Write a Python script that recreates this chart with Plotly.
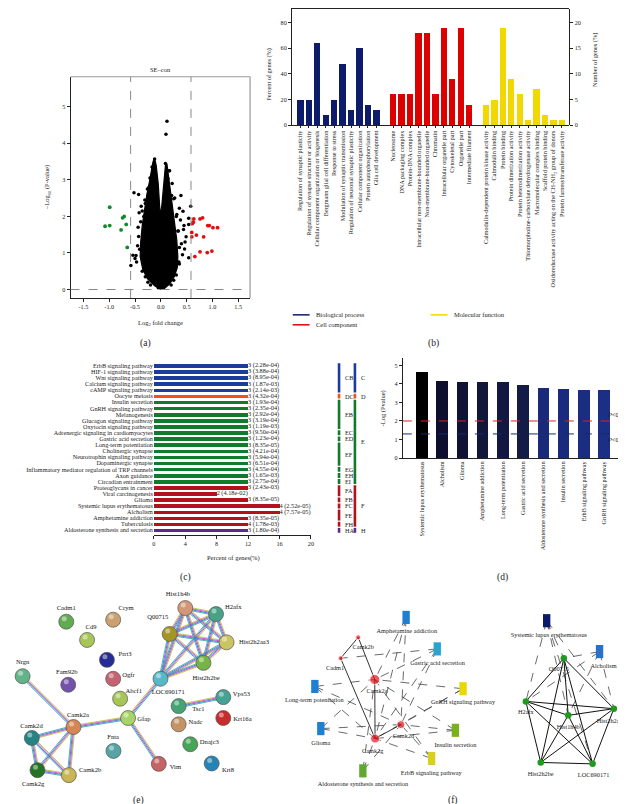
import plotly.graph_objects as go

W, H = 626, 804
FONT = "Liberation Serif, Times New Roman, serif"

# ---------------- (a) volcano data ----------------
cloud_x = [0, -0.12, -0.26, -0.35, -0.40, -0.39, -0.36, -0.32, -0.27, -0.22, -0.18, -0.15, -0.12, -0.09,
           -0.05, -0.01, 0.02, 0.06, 0.09, 0.12, 0.15, 0.19, 0.24, 0.28, 0.31, 0.33, 0.32, 0.26, 0.17, 0.07, 0]
cloud_y = [0, 0.10, 0.30, 0.55, 0.90, 1.30, 1.75, 2.20, 2.60, 2.95, 3.25, 3.50, 3.58, 3.40,
           2.90, 2.00, 2.30, 3.00, 3.40, 3.42, 3.10, 2.70, 2.25, 1.80, 1.35, 0.90, 0.60, 0.35, 0.15, 0.03, 0]
ns_x = [0.12, 0.10, -0.52, -0.43, -0.38, 0.39, 0.58, 0.36, 0.43, 0.54, 0.54, 0.44, 0.49, 0.40, 0.46, 0.54,
        -0.54, -0.48, -0.58, 0.25, 0.21, -0.12, 0.09, -0.23, 0.14, -0.33, -0.35, -0.45, -0.47, 0.38, 0.42,
        -0.44, 0.30, 0.33, -0.30, -0.50, 0.47, 0.36, -0.42, 0.45,
        -0.41, -0.43, -0.39, -0.36, -0.31, -0.26, -0.21, -0.17, 0.17, 0.22, 0.27, 0.31, 0.34, 0.36, 0.35,
        -0.30, -0.36, 0.30, 0.25, -0.25, 0.20, -0.20, 0.05, -0.05, 0.16]
ns_y = [4.60, 4.25, 2.65, 2.60, 2.28, 2.57, 2.28, 2.22, 2.14, 1.95, 1.78, 1.64, 1.44, 1.25, 1.11, 0.87,
        0.94, 0.93, 0.66, 2.48, 2.57, 3.57, 3.45, 2.80, 3.03, 2.00, 1.53, 1.20, 0.75, 1.90, 0.95,
        1.70, 2.00, 1.60, 2.35, 0.85, 1.30, 0.70, 2.10, 1.75,
        1.10, 1.45, 1.85, 2.15, 2.45, 2.75, 3.05, 3.35, 3.25, 2.90, 2.50, 2.05, 1.60, 1.15, 0.75,
        0.35, 0.50, 0.40, 0.25, 0.20, 0.12, 0.12, 0.05, 0.05, 3.25]
down_x = [-0.99, -1.08, -0.99, -0.74, -0.71, -0.67, -0.77, -0.65]
down_y = [2.25, 1.73, 1.75, 1.96, 2.00, 1.78, 1.63, 1.15]
up_x = [0.64, 0.61, 0.63, 0.60, 0.60, 0.69, 0.76, 0.81, 0.91, 0.94, 1.01, 1.10, 0.83, 0.76, 0.90, 0.99, 0.66]
up_y = [1.93, 1.80, 1.84, 1.56, 1.44, 1.49, 1.93, 1.96, 1.75, 1.75, 1.69, 1.69, 1.44, 1.03, 1.01, 1.05, 0.90]
fc_cut = 0.585
p_cut = 0

# ---------------- (b) GO data ----------------
bp_terms = ["Regulation of synaptic plasticity", "Regulation of synapse structure or activity",
            "Cellular component organization or biogenesis", "Bergmann glial cell differentiation",
            "Response to stress", "Modulation of synaptic transmission",
            "Regulation of neuronal synaptic plasticity", "Cellular component organization",
            "Protein autophosphorylation", "Glia cell development"]
bp_counts = [5, 5, 16, 2, 5, 12, 3, 15, 4, 3]
cc_terms = ["Nucleosome", "DNA packaging complex", "Protein-DNA complex",
            "Intracellular non-membrane-bounded organelle", "Non-membrane-bounded organelle", "Chromatin",
            "Intracellular organelle part", "Cytoskeletal part", "Organelle part", "Intermediate filament"]
cc_counts = [6, 6, 6, 18, 18, 6, 19, 9, 19, 4]
mf_terms = ["Calmodulin-dependent protein kinase activity", "Calmodulin binding", "Protein binding",
            "Protein dimerization activity", "Protein heterodimerization activity",
            "Thiomorpholine-carboxylate dehydrogenase activity", "Macromolecular complex binding",
            "Scaffold protein binding", "Oxidoreductase activity acting on the CH-NH<sub>2</sub> group of donors",
            "Protein farnesyltransferase activity"]
mf_counts = [4, 5, 19, 9, 6, 1, 7, 2, 1, 1]
pct_per_gene = 4  # left axis (percent) = 4 x right axis (number)

# ---------------- (c) KEGG data ----------------
kegg_terms = ["ErbB signaling pathway", "HIF-1 signaling pathway", "Wnt signaling pathway",
              "Calcium signaling pathway", "cAMP signaling pathway", "Oocyte meiosis", "Insulin secretion",
              "GnRH signaling pathway", "Melanogenesis", "Glucagon signaling pathway",
              "Oxytocin signaling pathway", "Adrenergic signaling in cardiomyocytes", "Gastric acid secretion",
              "Long-term potentiation", "Cholinergic synapse", "Neurotrophin signaling pathway",
              "Dopaminergic synapse", "Inflammatory mediator regulation of TRP channels", "Axon guidance",
              "Circadian entrainment", "Proteoglycans in cancer", "Viral carcinogenesis", "Glioma",
              "Systemic lupus erythematosus", "Alcholism", "Amphetamine addiction", "Tuberculosis",
              "Aldosterone synthesis and secretion"]
kegg_pct = [12, 12, 12, 12, 12, 12, 12, 12, 12, 12, 12, 12, 12, 12, 12, 12, 12, 12, 12, 12,
            12, 8, 12, 16, 16, 12, 12, 12]
kegg_text = ["3 (2.28e-04)", "3 (3.88e-04)", "3 (8.95e-04)", "3 (1.87e-03)", "3 (2.14e-03)", "3 (4.32e-04)",
             "3 (1.93e-04)", "3 (2.35e-04)", "3 (2.92e-04)", "3 (3.19e-04)", "3 (1.19e-03)", "3 (9.50e-04)",
             "3 (1.23e-04)", "3 (8.35e-05)", "3 (4.21e-04)", "3 (5.94e-04)", "3 (6.51e-04)", "3 (4.55e-04)",
             "3 (1.65e-03)", "3 (2.75e-04)", "3 (2.43e-03)", "2 (4.18e-02)", "3 (8.35e-05)", "4 (2.52e-05)",
             "4 (7.57e-05)", "3 (8.35e-05)", "4 (1.78e-03)", "3 (1.80e-04)"]
kegg_group = ["C"] * 5 + ["D"] + ["E"] * 14 + ["F"] * 7 + ["H"]
group_color = {"C": "#1b3c9a", "D": "#f5501a", "E": "#127a2c", "F": "#b3121c", "H": "#5a2c86"}
sub_groups = [("CB", 1, 5), ("DC", 6, 6), ("EB", 7, 11), ("EC", 12, 12), ("ED", 13, 13), ("EF", 14, 17),
              ("EG", 18, 18), ("EH", 19, 19), ("EI", 20, 20), ("FA", 21, 22), ("FB", 23, 23),
              ("FC", 24, 24), ("FE", 25, 26), ("FH", 27, 27), ("HA", 28, 28)]
main_groups = [("C", 1, 5), ("D", 6, 6), ("E", 7, 20), ("F", 21, 27), ("H", 28, 28)]

# ---------------- (d) top pathways ----------------
top_terms = ["Systemic lupus erythematosus", "Alcholism", "Glioma", "Amphetamine addiction",
             "Long-term potentiation", "Gastric acid secretion", "Aldosterone synthesis and secretion",
             "Insulin secretion", "ErbB signaling pathway", "GnRH signaling pathway"]
top_logp = [4.60, 4.12, 4.08, 4.08, 4.08, 3.91, 3.74, 3.71, 3.64, 3.63]
top_colors = ["#000000", "#0e0f2e", "#101335", "#11163b", "#121841", "#131b47",
              "#182a78", "#192b7c", "#1a2d80", "#1b2f84"]
p_lines = [2.0, 1.3]
p_labels = ["<i>P</i>&lt;0.01", "<i>P</i>&lt;0.05"]

# ---------------- (e) STRING network ----------------
e_genes = ["Cadm1", "Crym", "Cd9", "Prrt3", "Nrgn", "Fam92b", "Ogfr", "Abcf1", "Q00715", "Hist1h4b",
           "H2afx", "Hist2h2aa3", "Hist2h2be", "LOC690171", "Tsc1", "Nadc", "Krt16a", "Vps53", "Dnajc3",
           "Krt8", "Fnta", "Gfap", "Vim", "Camk2a", "Camk2d", "Camk2g", "Camk2b"]
e_x = [56.7, 104, 77.7, 97.7, 12.7, 58.7, 104, 111, 161, 176.7, 207.7, 218.3, 195, 151.7, 170, 170, 215,
       215, 181.7, 203.3, 104.3, 119, 150, 64, 22, 27.7, 59.3]
e_y = [616, 614, 634.3, 654.3, 670.7, 679.3, 673.3, 693.3, 628.3, 602.3, 608.3, 636.7, 657.3, 673.3, 700.7,
       719, 712.7, 691.7, 739, 758.3, 745.7, 712.7, 758.7, 721.7, 732.7, 765, 770]
e_lx = [56.7, 117, 81.7, 116, 12.7, 57.3, 119.5, 124.7, 149, 169.3, 225, 246, 197.7, 159.5, 190, 187,
        234.3, 233.3, 201, 219.7, 104, 135, 166.7, 68.5, 21.7, 23.3, 80.7]
e_ly = [602.7, 602.7, 621.7, 648.3, 656.7, 667.3, 670, 686, 611.7, 588.7, 601.7, 636.7, 673.3, 686.7, 704.3,
        717.3, 714, 689, 737.3, 765.7, 732.3, 714, 762.3, 710, 720.7, 779.3, 765]
e_colors = ["#62ab52", "#c9a270", "#a9c457", "#252c92", "#62b488", "#7452ab", "#c46472", "#a6c657",
            "#a49524", "#d39676", "#46a386", "#cbc463", "#76b446", "#55b9c9", "#44a474", "#c49466",
            "#c92c2c", "#44a394", "#46a556", "#2684b4", "#56a4a4", "#a6d466", "#c46464", "#d48654",
            "#248484", "#247424", "#cbb456"]
histones = ["Q00715", "Hist1h4b", "H2afx", "Hist2h2aa3", "Hist2h2be", "LOC690171"]
e_edges = [("Nrgn", "Camk2a"), ("Camk2a", "Gfap"), ("Gfap", "LOC690171"), ("Gfap", "Vim"),
           ("Camk2a", "Camk2d"), ("Camk2a", "Camk2g"), ("Camk2a", "Camk2b"), ("Camk2d", "Camk2g"),
           ("Camk2d", "Camk2b"), ("Camk2g", "Camk2b"), ("Tsc1", "Vps53")]
for i in range(len(histones)):
    for j in range(i + 1, len(histones)):
        e_edges.append((histones[i], histones[j]))

# ---------------- (f) pathway-gene networks ----------------
f_genes = ["Camk2b", "Cadm1", "Camk2a", "Camk2d", "Camk2g"]
f_gx = [351, 333.3, 367.7, 394, 368]
f_gy = [631.7, 652.7, 674, 719.3, 733.3]
f_gsize = [5, 5, 10, 8, 9]
f_glx = [356, 327.7, 370, 396.7, 365.7]
f_gly = [641.7, 662.7, 685.7, 730.7, 746]
f_paths = ["Amphetamine addiction", "Gastric acid secretion", "GnRH signaling pathway", "Insulin secretion",
           "ErbB signaling pathway", "Long-term potentiation", "Glioma", "Aldosterone synthesis and secretion"]
f_px = [399.3, 430.7, 456.7, 449, 425, 307.3, 313.3, 355.7]
f_py = [611.7, 643.3, 683.3, 725, 753.3, 681, 723.3, 765.7]
f_pcol = ["#1f7fd0", "#2aa2d2", "#e8d800", "#78b020", "#d8d020", "#1f7fd0", "#1f7fd0", "#60a830"]
f_plx = [400, 431, 456.7, 449, 424.7, 306.7, 313.3, 355.7]
f_ply = [626, 658, 696.7, 740, 768, 695.3, 737.7, 779.3]
f_solid = [("Camk2b", "Cadm1"), ("Camk2b", "Camk2a"), ("Cadm1", "Camk2g"), ("Camk2a", "Camk2g"),
           ("Camk2d", "Camk2g")]
f_dashed = [(p, g) for p in f_paths for g in ["Camk2a", "Camk2d", "Camk2g"]] + [("Gastric acid secretion", "Cadm1")]

r_genes = ["Q00715", "H2afx", "Hist1h4b", "Hist2h2aa3", "Hist2h2be", "LOC690171"]
r_x = [558.3, 520, 562.7, 608.7, 535, 587.3]
r_y = [652.7, 696, 710, 703.3, 757.3, 758.7]
r_lx = [553.3, 520, 562.7, 606, 535, 588.3]
r_ly = [664, 706.7, 721.7, 716, 769.3, 770]
r_paths = ["Systemic lupus erythematosus", "Alcholism"]
r_px = [541, 594.3]
r_py = [615, 646]
r_pcol = ["#0a1a6a", "#2870c8"]
r_plx = [543.3, 598.3]
r_ply = [630, 660.7]
r_dashed = [("Systemic lupus erythematosus", g) for g in ["H2afx", "Q00715", "Hist1h4b", "Hist2h2aa3", "LOC690171"]] + \
           [("Alcholism", g) for g in ["Q00715", "H2afx", "Hist1h4b", "Hist2h2aa3"]]

# ================= figure =================
fig = go.Figure()
TXT = "#222222"

# (a)
fig.add_trace(go.Scatter(x=cloud_x, y=cloud_y, fill="toself", mode="lines", line=dict(color="black", width=1.2),
                         fillcolor="black", xaxis="x", yaxis="y"))
fig.add_trace(go.Scatter(x=ns_x, y=ns_y, mode="markers", marker=dict(color="black", size=3.5), xaxis="x", yaxis="y"))
fig.add_trace(go.Scatter(x=down_x, y=down_y, mode="markers", marker=dict(color="#138a2a", size=3.8), xaxis="x", yaxis="y"))
fig.add_trace(go.Scatter(x=up_x, y=up_y, mode="markers", marker=dict(color="#e01010", size=3.8), xaxis="x", yaxis="y"))

# (b)  bars on left (percent) axis; right axis y3 shows gene number
bp_pos = list(range(0, 10))
cc_pos = list(range(11, 21))
mf_pos = list(range(22, 32))
for pos, cnt, col in [(bp_pos, bp_counts, "#0c1c6a"), (cc_pos, cc_counts, "#dd0000"), (mf_pos, mf_counts, "#f0d800")]:
    fig.add_trace(go.Bar(x=pos, y=[c * pct_per_gene for c in cnt], width=0.75,
                         marker=dict(color=col, line=dict(width=0)), xaxis="x2", yaxis="y2"))
fig.add_trace(go.Scatter(x=[None], y=[None], mode="markers", xaxis="x2", yaxis="y3"))

# (c)
rows = list(range(len(kegg_terms)))
fig.add_trace(go.Bar(x=kegg_pct, y=rows, orientation="h", width=0.58,
                     marker=dict(color=[group_color[g] for g in kegg_group], line=dict(width=0)),
                     xaxis="x4", yaxis="y4"))
fig.add_trace(go.Scatter(x=kegg_pct, y=rows, mode="text", text=kegg_text, textposition="middle right",
                         textfont=dict(size=6.3, color=TXT, family=FONT), xaxis="x4", yaxis="y4",
                         cliponaxis=False))

# (d)
fig.add_trace(go.Bar(x=list(range(len(top_terms))), y=top_logp, width=0.57,
                     marker=dict(color=top_colors, line=dict(width=0)), xaxis="x5", yaxis="y5"))

# ---- overlay network traces (pixel coordinate axis x6/y6) ----
idx = {g: i for i, g in enumerate(e_genes)}
edge_cols = ["#b8c83a", "#d448c8", "#4a6ad8", "#3aa8a8"]
offs = [-1.5, -0.5, 0.5, 1.5]
for k, col in enumerate(edge_cols):
    xs, ys = [], []
    for a, b in e_edges:
        x0, y0, x1, y1 = e_x[idx[a]], e_y[idx[a]], e_x[idx[b]], e_y[idx[b]]
        dx, dy = x1 - x0, y1 - y0
        L = (dx * dx + dy * dy) ** 0.5
        nx, ny = -dy / L, dx / L
        o = offs[k]
        xs += [x0 + nx * o, x1 + nx * o, None]
        ys += [y0 + ny * o, y1 + ny * o, None]
    fig.add_trace(go.Scatter(x=xs, y=ys, mode="lines", line=dict(color=col, width=0.9),
                             xaxis="x6", yaxis="y6"))
fig.add_trace(go.Scatter(x=e_x, y=e_y, mode="markers",
                         marker=dict(size=15, color=e_colors, line=dict(color="#555555", width=0.7)),
                         xaxis="x6", yaxis="y6"))
fig.add_trace(go.Scatter(x=[v - 2 for v in e_x], y=[v - 3 for v in e_y], mode="markers",
                         marker=dict(size=5, color="rgba(255,255,255,0.45)"), xaxis="x6", yaxis="y6"))
fig.add_trace(go.Scatter(x=e_lx, y=e_ly, mode="text", text=e_genes, textposition="middle center",
                         textfont=dict(size=6.6, color="#111", family=FONT), xaxis="x6", yaxis="y6",
                         cliponaxis=False))

# (f) edges
fpos = {}
for g, x, y in zip(f_genes, f_gx, f_gy):
    fpos[g] = (x, y)
for p, x, y in zip(f_paths, f_px, f_py):
    fpos[p] = (x, y)
rpos = {}
for g, x, y in zip(r_genes, r_x, r_y):
    rpos[g] = (x, y)
for p, x, y in zip(r_paths, r_px, r_py):
    rpos[p] = (x, y)


def seg(pairs, pos):
    xs, ys = [], []
    for a, b in pairs:
        xs += [pos[a][0], pos[b][0], None]
        ys += [pos[a][1], pos[b][1], None]
    return xs, ys


dx_, dy_ = seg(f_dashed, fpos)
fig.add_trace(go.Scatter(x=dx_, y=dy_, mode="lines", line=dict(color="#444", width=0.8, dash="dash"),
                         xaxis="x6", yaxis="y6"))
sx_, sy_ = seg(f_solid, fpos)
fig.add_trace(go.Scatter(x=sx_, y=sy_, mode="lines", line=dict(color="#333", width=1.0),
                         xaxis="x6", yaxis="y6"))
r_solid = [(r_genes[i], r_genes[j]) for i in range(len(r_genes)) for j in range(i + 1, len(r_genes))]
dx_, dy_ = seg(r_dashed, rpos)
fig.add_trace(go.Scatter(x=dx_, y=dy_, mode="lines", line=dict(color="#444", width=0.8, dash="dash"),
                         xaxis="x6", yaxis="y6"))
sx_, sy_ = seg(r_solid, rpos)
fig.add_trace(go.Scatter(x=sx_, y=sy_, mode="lines", line=dict(color="#111", width=1.0),
                         xaxis="x6", yaxis="y6"))
fig.add_trace(go.Scatter(x=f_gx, y=f_gy, mode="markers", marker=dict(size=f_gsize, color="#e8141c"),
                         xaxis="x6", yaxis="y6"))
fig.add_trace(go.Scatter(x=r_x, y=r_y, mode="markers", marker=dict(size=6.5, color="#1f9a1f"),
                         xaxis="x6", yaxis="y6"))
fig.add_trace(go.Scatter(x=f_glx + r_lx, y=f_gly + r_ly, mode="text", text=f_genes + r_genes,
                         textfont=dict(size=6.3, color="#222", family=FONT), xaxis="x6", yaxis="y6",
                         cliponaxis=False))
fig.add_trace(go.Scatter(x=f_plx + r_plx, y=f_ply + r_ply, mode="text", text=f_paths + r_paths,
                         textfont=dict(size=6.3, color="#222", family=FONT), xaxis="x6", yaxis="y6",
                         cliponaxis=False))

shapes = []
# (f) rectangles
for x, y, c in zip(f_px + r_px, f_py + r_py, f_pcol + r_pcol):
    shapes.append(dict(type="rect", xref="x6", yref="y6", x0=x - 3.7, x1=x + 3.7, y0=y - 6.6, y1=y + 6.6,
                       fillcolor=c, line=dict(width=0)))

# (a) extra
for xv in [-fc_cut, fc_cut]:
    shapes.append(dict(type="line", xref="x", yref="y domain", x0=xv, x1=xv, y0=0, y1=1,
                       line=dict(color="#888", width=1, dash="dash")))
shapes.append(dict(type="line", xref="x domain", yref="y", x0=0, x1=1, y0=p_cut, y1=p_cut,
                   line=dict(color="#888", width=1, dash="dash")))
shapes.append(dict(type="line", xref="x domain", yref="y domain", x0=0, x1=1, y0=1, y1=1,
                   line=dict(color="#999", width=1.2)))
shapes.append(dict(type="line", xref="x domain", yref="y domain", x0=1, x1=1, y0=0, y1=1,
                   line=dict(color="#999", width=1.2)))

# (b) legend
for (x0, y0, col) in [(285, 308, "#0c1c6a"), (285, 318, "#dd0000"), (424, 308, "#f0d800")]:
    shapes.append(dict(type="line", xref="x6", yref="y6", x0=x0, x1=x0 + 17, y0=y0, y1=y0,
                       line=dict(color=col, width=1.5)))

# (c) brackets
for name, s, e in sub_groups:
    shapes.append(dict(type="line", xref="paper", yref="y4", x0=331.7 / W, x1=331.7 / W,
                       y0=s - 1 - 0.4, y1=e - 1 + 0.4, line=dict(color=group_color[name[0]], width=2.6)))
for name, s, e in main_groups:
    shapes.append(dict(type="line", xref="paper", yref="y4", x0=347.7 / W, x1=347.7 / W,
                       y0=s - 1 - 0.4, y1=e - 1 + 0.4, line=dict(color=group_color[name], width=2.6)))

# (d) p-lines
for yv, col in zip(p_lines, ["#e02020", "#1a2a6a"]):
    shapes.append(dict(type="line", xref="paper", yref="y5", x0=396 / W, x1=1, y0=yv, y1=yv,
                       line=dict(color=col, width=1, dash="dash")))

ann = []


def A(x, y, t, size=6.5, angle=0, xa="center", ya="middle", color=TXT):
    ann.append(dict(x=x, y=y, xref="x6", yref="y6", text=t, showarrow=False, textangle=angle,
                    xanchor=xa, yanchor=ya, font=dict(size=size, color=color, family=FONT)))


A(152, 62, "SE–con", 6.5)
A(38, 180, "–Log<sub>10</sub> (P-value)", 6.5, -90)
A(152, 316, "Log<sub>2</sub> fold change", 6.5)
A(261, 66, "Percent of genes (%)", 6.3, -90)
A(590, 52, "Number of genes (%)", 6.3, -90)
A(306, 308, "Biological process", 6.5, xa="left")
A(306, 318, "Cell component", 6.5, xa="left")
A(446, 308, "Molecular function", 6.5, xa="left")
A(225, 552, "Percent of genes(%)", 6.5)
A(375, 402, "-Log (Pvalue)", 6.5, -90)
# P-value labels beside the threshold lines
for lab, yv, dy in zip(p_labels, p_lines, [-6, 6]):
    ann.append(dict(x=601 / W, y=yv, xref="paper", yref="y5", yshift=-dy, text=lab, showarrow=False,
                    xanchor="left", yanchor="middle", borderpad=0,
                    font=dict(size=6.3, color=TXT, family=FONT)))
for name, s, e in sub_groups:
    ann.append(dict(x=335.5 / W, y=(s + e) / 2 - 1, xref="paper", yref="y4", text=name, showarrow=False,
                    xanchor="left", font=dict(size=6.3, color=TXT, family=FONT)))
for name, s, e in main_groups:
    ann.append(dict(x=351.5 / W, y=(s + e) / 2 - 1, xref="paper", yref="y4", text=name, showarrow=False,
                    xanchor="left", font=dict(size=6.3, color=TXT, family=FONT)))
for t, x, y in [("(a)", 137, 337), ("(b)", 427, 337), ("(c)", 176.7, 571.7), ("(d)", 496.7, 571.7),
                ("(e)", 130, 795.5), ("(f)", 446.7, 795.5)]:
    A(x, y, t, 9.5)

axis_common = dict(showgrid=False, zeroline=False, linecolor="#222", linewidth=1, tickcolor="#222",
                   tickfont=dict(size=6.2, color=TXT, family=FONT))
b_dom = [1 - 117.7 / H, 1 - 1 / H]
b_top = 90.6

fig.update_layout(
    width=W, height=H, margin=dict(l=0, r=0, t=0, b=0), paper_bgcolor="white", plot_bgcolor="rgba(0,0,0,0)",
    showlegend=False, font=dict(family=FONT, size=6.5, color=TXT), bargap=0,
    xaxis=dict(domain=[61 / W, 242 / W], range=[-1.75, 1.73], anchor="y", showline=True, ticks="outside", ticklen=3,
               tickvals=[-1.5, -1, -0.5, 0, 0.5, 1, 1.5],
               ticktext=["-1.5", "-1.0", "-0.5", "0.0", "0.5", "1.0", "1.5"], **axis_common),
    yaxis=dict(domain=[1 - 291 / H, 1 - 69 / H], range=[-0.23, 5.82], anchor="x", showline=True, ticks="outside",
               ticklen=3, tickvals=[0, 1, 2, 3, 4, 5], **axis_common),
    xaxis2=dict(domain=[284.3 / W, 564 / W], range=[-1, 31.9], anchor="y2", showline=True, mirror=True,
                ticks="outside", ticklen=2, tickangle=-90, tickvals=bp_pos + cc_pos + mf_pos,
                ticktext=bp_terms + cc_terms + mf_terms, **axis_common),
    yaxis2=dict(domain=b_dom, range=[0, b_top], anchor="x2", showline=True, ticks="outside",
                ticklen=3, tickvals=[0, 20, 40, 60, 80], **axis_common),
    yaxis3=dict(domain=b_dom, side="right", anchor="x2", range=[0, b_top / pct_per_gene], showline=True,
                ticks="outside", ticklen=3, tickvals=[0, 5, 10, 15, 20], **axis_common),
    xaxis4=dict(domain=[145 / W, 303.3 / W], range=[0, 20], anchor="y4", showline=True, ticks="outside",
                ticklen=3, tickvals=[0, 4, 8, 12, 16, 20], **axis_common),
    yaxis4=dict(domain=[1 - 529 / H, 1 - 355 / H], range=[27.77, -0.65], anchor="x4", showline=False, ticks="",
                tickvals=rows, ticktext=kegg_terms, **axis_common),
    xaxis5=dict(domain=[396 / W, 613 / W], range=[-0.93, 9.7], anchor="y5", showline=True, ticks="",
                tickangle=-90, tickvals=list(range(len(top_terms))), ticktext=top_terms, **axis_common),
    yaxis5=dict(domain=[1 - 451.7 / H, 1 - 351.7 / H], range=[0, 5.38], anchor="x5", showline=True,
                ticks="outside", ticklen=3, tickvals=[0, 1, 2, 3, 4, 5], **axis_common),
    xaxis6=dict(domain=[0, 1], range=[0, W], anchor="y6", visible=False),
    yaxis6=dict(domain=[0, 1], range=[H, 0], anchor="x6", visible=False),
    shapes=shapes, annotations=ann,
)

fig.write_html("out.html")
